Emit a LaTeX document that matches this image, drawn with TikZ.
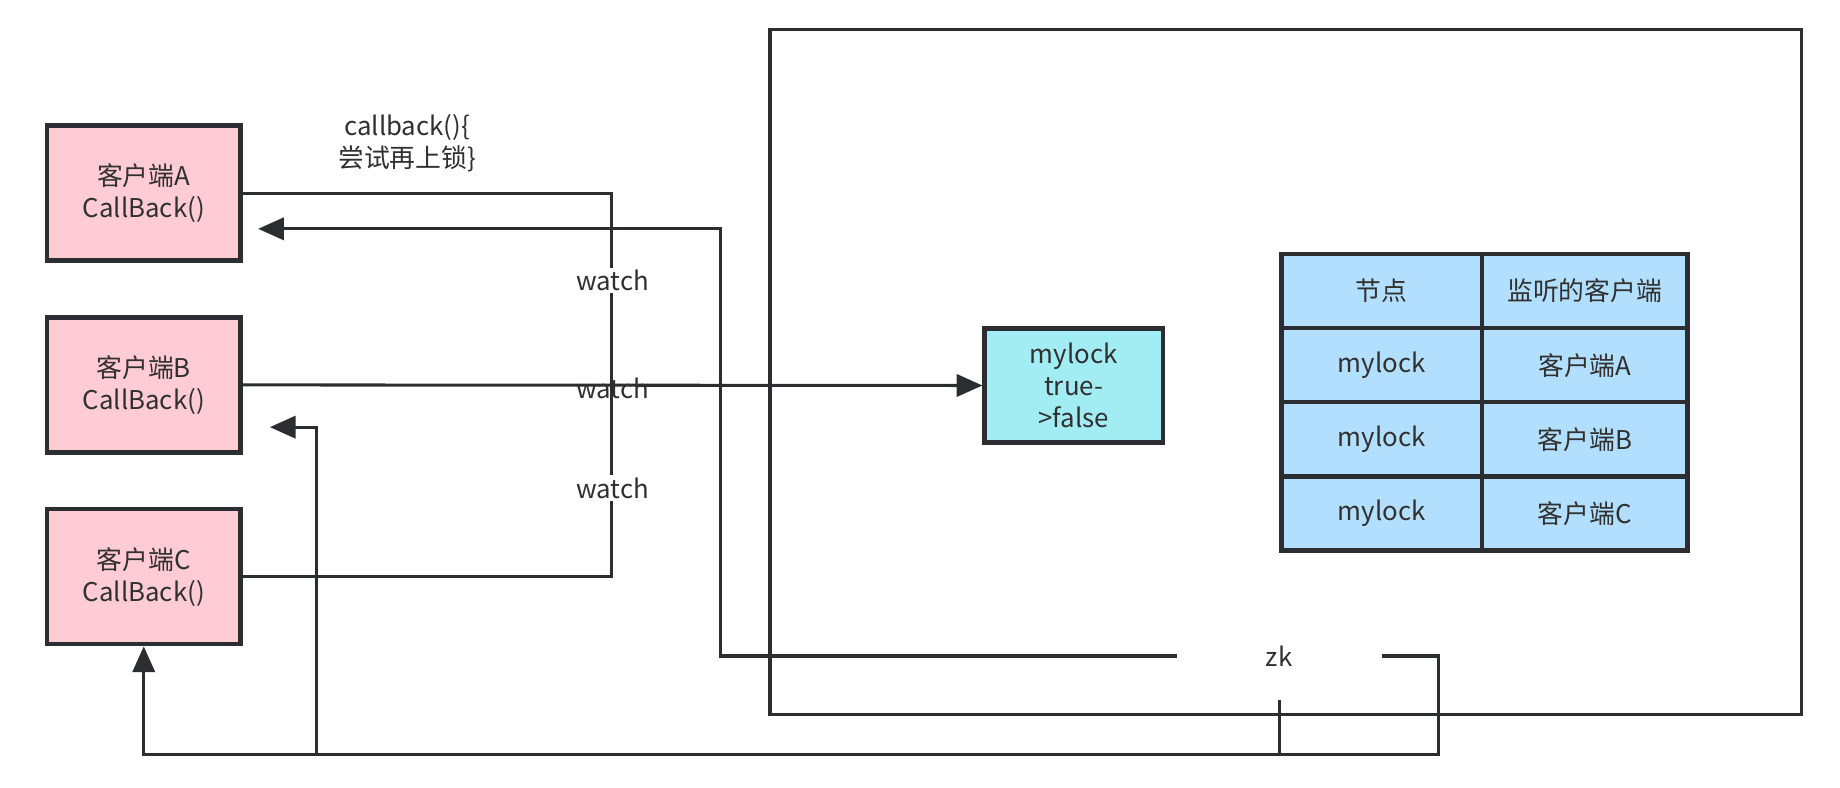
\documentclass[tikz,border=0pt]{standalone}
\usepackage{fontspec}
\setmainfont{Noto Sans CJK SC}
\usetikzlibrary{arrows.meta}
\definecolor{ink}{HTML}{2B2D31}
\definecolor{txt}{HTML}{303030}
\definecolor{pinkfill}{HTML}{FFCCD5}
\definecolor{cyanfill}{HTML}{A2EDF3}
\definecolor{bluefill}{HTML}{B3DFFF}
\tikzset{
  client/.style={draw=ink, line width=1.8pt, fill=pinkfill, minimum width=82.5pt, minimum height=57.5pt, align=center, text=txt, font=\fontsize{11}{13.5}\selectfont},
  lockbox/.style={draw=ink, line width=1.8pt, fill=cyanfill, minimum width=76pt, minimum height=48.5pt, align=center, text=txt, font=\fontsize{11}{13.7}\selectfont},
  cellA/.style={draw=ink, line width=1.8pt, fill=bluefill, minimum width=85.5pt, minimum height=31.6pt, text=txt, font=\fontsize{11}{13}\selectfont},
  cellB/.style={cellA, minimum width=87.5pt},
  conn/.style={draw=ink, line width=1.3pt},
  arr/.style={conn, -{Triangle[length=11pt,width=9.5pt]}},
  lbl/.style={fill=white, inner sep=1pt, text=txt, font=\fontsize{11}{13}\selectfont},
  plain/.style={text=txt, font=\fontsize{11}{13.7}\selectfont, align=center},
}
\begin{document}
\begin{tikzpicture}[x=0.5pt, y=-0.5pt]
\useasboundingbox (0,0) rectangle (1568,671.5);
% large zk area
\node[draw=ink, line width=1.5pt, minimum width=439.5pt, minimum height=292pt, inner sep=0pt] (area) at (1095.5,317) {};
% clients
\node[client] (A) at (122.5,164.5) {客户端A\\CallBack()};
\node[client] (B) at (122.5,328) {客户端B\\CallBack()};
\node[client] (C) at (122.5,491.5) {客户端C\\CallBack()};
% mylock
\node[lockbox] (M) at (915,328.5) {mylock\\true-\\>false};
% table
\node[cellA] (t11) at (1177.5,248) {节点};
\node[cellB] (t12) at (1350.5,248) {监听的客户端};
\node[cellA] (t21) at (1177.5,311.2) {mylock};
\node[cellB] (t22) at (1350.5,311.2) {客户端A};
\node[cellA] (t31) at (1177.5,374.4) {mylock};
\node[cellB] (t32) at (1350.5,374.4) {客户端B};
\node[cellA] (t41) at (1177.5,437.6) {mylock};
\node[cellB] (t42) at (1350.5,437.6) {客户端C};
% zk
\node[plain, minimum width=87pt, minimum height=37pt, inner sep=0pt] (zk) at (1090,559) {zk};
% callback label
\node[plain] (cb) at (347,122) {callback()\{\\尝试再上锁\}};
% helper coordinates
\coordinate (j) at (521,328);
\coordinate (aA) at (220,195);
\coordinate (aB) at (230,364);
\coordinate (bl) at (270,643);
% watch connectors
\draw[conn] (A.east) -| (j);
\draw[conn] (C.east) -| (j);
\draw[arr] (B.east) -- (M.west);
\node[lbl] (w1) at (522,239) {watch};
\node[lbl, fill=none] (w2) at (522,331) {watch};
\node[lbl] (w3) at (522,416) {watch};
% callbacks from zk
\draw[arr] (zk.west) -| (614,195) -- (aA);
\draw[arr] (zk.east) -| (1226,643) -| (C.south);
\draw[conn] (zk.south) -- (1090,643);
\draw[arr] (bl) |- (aB);
\end{tikzpicture}
\end{document}
